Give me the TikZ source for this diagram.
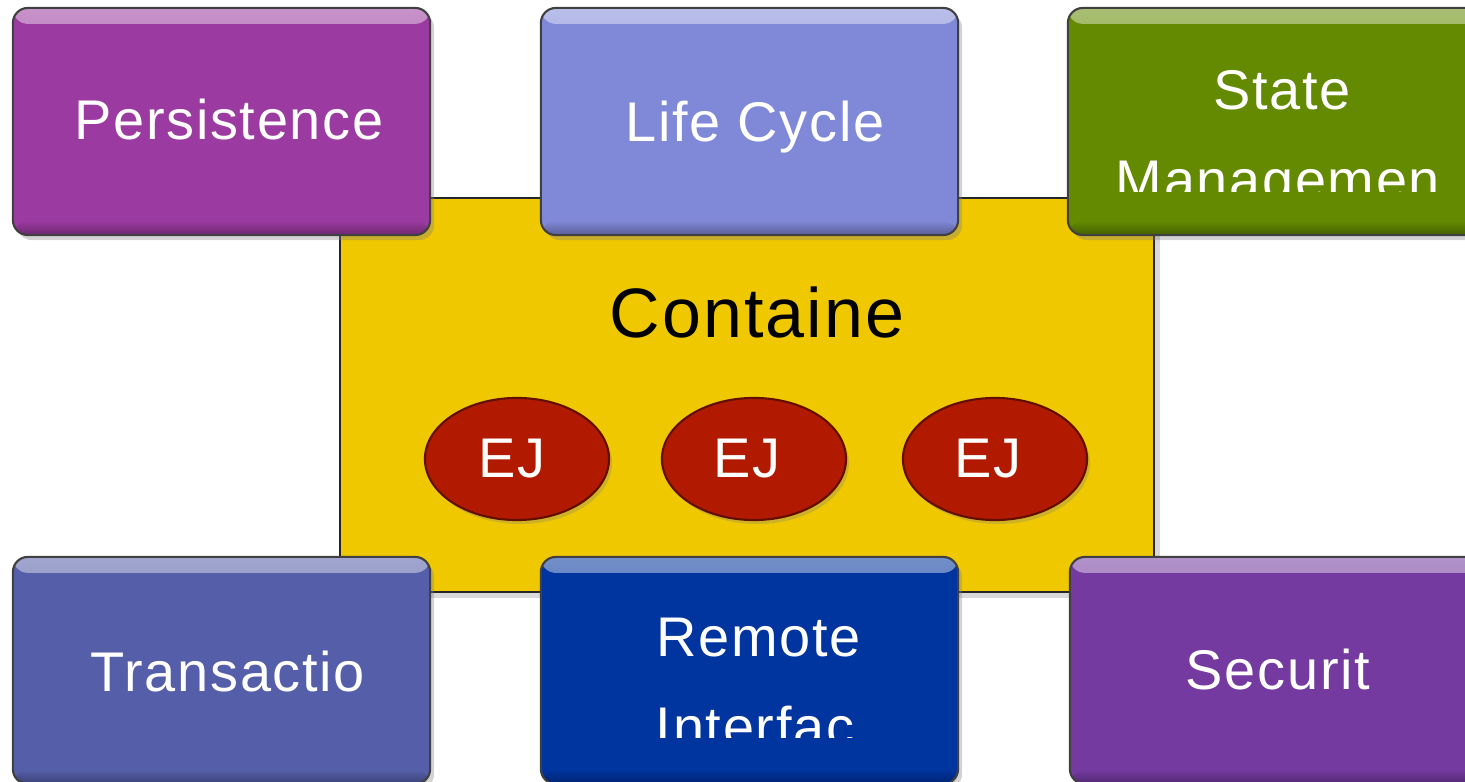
\documentclass[tikz,border=0pt]{standalone}
\usepackage{fontspec}
\setmainfont{Liberation Sans}
\newfontfamily\labelfont[LetterSpace=3]{Liberation Sans}
\usetikzlibrary{shapes.geometric, shadows, fadings, positioning}

\definecolor{persistcol}{RGB}{155,58,160}
\definecolor{lifecol}{RGB}{128,136,216}
\definecolor{statecol}{RGB}{99,138,0}
\definecolor{transcol}{RGB}{85,94,168}
\definecolor{remotecol}{RGB}{0,52,158}
\definecolor{securcol}{RGB}{116,58,160}
\definecolor{contcol}{RGB}{240,200,0}
\definecolor{ejcol}{RGB}{178,26,0}

\tikzset{
    svcbox/.style={rectangle, rounded corners=0.15cm, draw=black!75, line width=0.6pt,
        fill=#1, minimum width=4.17cm, minimum height=2.27cm, inner sep=0pt,
        drop shadow={shadow xshift=0.04cm, shadow yshift=-0.05cm, opacity=0.35},
        path picture={
            \fill[white, opacity=.45, path fading=south] ([yshift=-0.16cm]path picture bounding box.north west)
                rectangle (path picture bounding box.north east);
            \fill[black, opacity=.3, path fading=north] (path picture bounding box.south west)
                rectangle ([yshift=0.14cm]path picture bounding box.south east);
        }},
    svctext/.style={anchor=base, text=white, inner sep=0pt,
        font=\labelfont\fontsize{15.9}{19}\selectfont},
    bean/.style={ellipse, fill=ejcol, draw=ejcol!55!black, line width=0.6pt,
        minimum width=1.84cm, minimum height=1.22cm, inner sep=0pt,
        drop shadow={shadow xshift=0.03cm, shadow yshift=-0.04cm, opacity=0.3}}
}

\begin{document}
\begin{tikzpicture}[x=0.01cm, y=-0.01cm]
    \useasboundingbox (0,0) rectangle (1465,782);
    \clip (0,0) rectangle (1465,782);

    % container
    \node[rectangle, fill=contcol, draw=black!85, line width=0.7pt, inner sep=0pt,
        minimum width=8.14cm, minimum height=3.94cm,
        drop shadow={shadow xshift=0.06cm, shadow yshift=-0.06cm, opacity=0.3}] (cont) at (747,395) {};
    \node[anchor=base, inner sep=0pt, font=\labelfont\fontsize{19.9}{24}\selectfont] (conttxt) at (757,338) {Containe};

    \node[bean] (ej1) at (517,459) {};
    \node[bean] (ej2) at (754,459) {};
    \node[bean] (ej3) at (995,459) {};
    \node[svctext] (ej1txt) at (512,478) {EJ};
    \node[svctext] (ej2txt) at (747,478) {EJ};
    \node[svctext] (ej3txt) at (988,478) {EJ};

    % services, top row
    \node[svcbox=persistcol] (persist) at (221.5,121.5) {};
    \node[svcbox=lifecol] (life) at (749.5,121.5) {};
    \node[svcbox=statecol] (state) at (1276.5,121.5) {};
    \node[svctext] (persisttxt) at (229,140) {Persistence};
    \node[svctext] (lifetxt) at (755,142) {Life Cycle};
    \node[svctext] (statetxt) at (1282,110) {State};
    \begin{scope}
        \clip (1060,0) rectangle (1465,192);
        \node[svctext] (mgmttxt) at (1278,200) {Managemen};
    \end{scope}

    % services, bottom row
    \node[svcbox=transcol] (trans) at (221.5,670.5) {};
    \node[svcbox=remotecol] (remote) at (749.5,670.5) {};
    \node[svcbox=securcol] (secur) at (1278.5,670.5) {};
    \node[svctext] (transtxt) at (228,692) {Transactio};
    \node[svctext] (remotetxt) at (759,657) {Remote};
    \begin{scope}
        \clip (540,600) rectangle (960,738);
        \node[svctext] (ifacetxt) at (755,747) {Interfac};
    \end{scope}
    \node[svctext] (securtxt) at (1278,690) {Securit};
\end{tikzpicture}
\end{document}
